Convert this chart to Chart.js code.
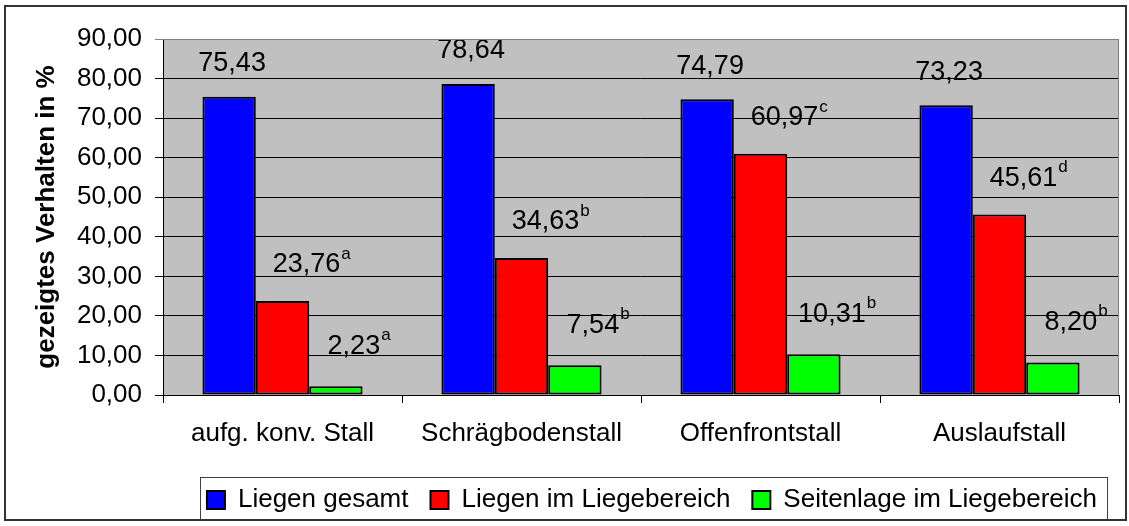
<!DOCTYPE html>
<html>
<head>
<meta charset="utf-8">
<script src="https://cdn.jsdelivr.net/npm/chart.js@4"></script>
<style>
  body { margin: 0; background: #fff; }
  #wrap { width: 1129px; height: 526px; }
</style>
</head>
<body>
<div id="wrap"><canvas id="behaviourChart" width="1129" height="526"></canvas></div>
<script>
// values
const stallTypes = ['aufg. konv. Stall', 'Schrägbodenstall', 'Offenfrontstall', 'Auslaufstall'];
const liegenGesamt = [75.43, 78.64, 74.79, 73.23];
const liegenImLiegebereich = [23.76, 34.63, 60.97, 45.61];
const seitenlageImLiegebereich = [2.23, 7.54, 10.31, 8.20];
const supLiegen = ['a', 'b', 'c', 'd'];
const supSeitenlage = ['a', 'b', 'b', 'b'];
const yTicks = [0, 10, 20, 30, 40, 50, 60, 70, 80, 90];

const FONT = 'Liberation Sans, Arial, sans-serif';

function fmt(v) {
    return v.toFixed(2).replace('.', ',');
}

// label placement per series (manual nudges like in the original)
const labelNudge = [
    { dx: 3, dy: -33 },
    { dx: 24, dy: -36 },
    { dx: 18, dy: -40 }
];

// grey plot background + border round the plot
const plotArea = {
    id: 'plotArea',
    beforeDraw(chart) {
        const { ctx, chartArea: a } = chart;
        ctx.save();
        ctx.fillStyle = '#c0c0c0';
        ctx.fillRect(a.left, a.top, a.right - a.left, a.bottom - a.top);
        ctx.restore();
    },
    afterDraw(chart) {
        const { ctx, chartArea: a } = chart;
        ctx.save();
        ctx.strokeStyle = '#808080';
        ctx.lineWidth = 1;
        ctx.beginPath();
        ctx.moveTo(a.left, a.top + 0.5);
        ctx.lineTo(a.right - 0.5, a.top + 0.5);
        ctx.lineTo(a.right - 0.5, a.bottom);
        ctx.stroke();

        // box round the legend
        const boxes = chart.legend.legendHitBoxes;
        if (boxes && boxes.length) {
            const l = Math.min(...boxes.map(b => b.left)) - 7;
            const r = Math.max(...boxes.map(b => b.left + b.width)) + 10;
            const t = Math.min(...boxes.map(b => b.top)) - 10;
            const btm = Math.max(...boxes.map(b => b.top + b.height)) + 6;
            ctx.strokeStyle = '#404040';
            ctx.lineWidth = 1;
            ctx.strokeRect(Math.round(l) + 0.5, Math.round(t) + 0.5, Math.round(r - l), Math.round(btm - t));
        }

        // outer frame
        ctx.strokeStyle = '#333';
        ctx.lineWidth = 2;
        ctx.strokeRect(5, 6, 1121, 514);
        ctx.restore();
    }
};

// value labels with superscript letters
const valueLabels = {
    id: 'valueLabels',
    afterDatasetsDraw(chart) {
        const ctx = chart.ctx;
        ctx.save();
        chart.data.datasets.forEach((ds, i) => {
            const meta = chart.getDatasetMeta(i);
            meta.data.forEach((bar, j) => {
                const txt = fmt(ds.data[j]);
                const sup = ds.sup ? ds.sup[j] : '';
                const cx = bar.x + labelNudge[i].dx;
                const cy = bar.y + labelNudge[i].dy;
                ctx.font = '27px ' + FONT;
                ctx.fillStyle = '#000';
                ctx.textAlign = 'center';
                ctx.textBaseline = 'middle';
                ctx.fillText(txt, cx, cy);
                if (sup) {
                    const w = ctx.measureText(txt).width;
                    ctx.font = '17px ' + FONT;
                    ctx.textAlign = 'left';
                    ctx.fillText(sup, cx + w / 2 + 1, cy - 11);
                }
            });
        });
        ctx.restore();
    }
};

const ctx = document.getElementById('behaviourChart').getContext('2d');
const behaviourChart = new Chart(ctx, {
    type: 'bar',
    data: {
        labels: stallTypes,
        datasets: [
            {
                label: 'Liegen gesamt',
                data: liegenGesamt,
                backgroundColor: '#0000ff',
                borderColor: '#000',
                borderWidth: 2,
                borderSkipped: false
            },
            {
                label: 'Liegen im Liegebereich',
                data: liegenImLiegebereich,
                sup: supLiegen,
                backgroundColor: '#ff0000',
                borderColor: '#000',
                borderWidth: 2,
                borderSkipped: false
            },
            {
                label: 'Seitenlage im Liegebereich',
                data: seitenlageImLiegebereich,
                sup: supSeitenlage,
                backgroundColor: '#00ff00',
                borderColor: '#000',
                borderWidth: 2,
                borderSkipped: false
            }
        ]
    },
    options: {
        responsive: false,
        animation: false,
        devicePixelRatio: 1,
        layout: { padding: { left: 8, top: 39, right: 10, bottom: 3 } },
        datasets: {
            bar: { categoryPercentage: 0.67, barPercentage: 1.0 }
        },
        scales: {
            x: {
                offset: true,
                grid: {
                    offset: true,
                    drawOnChartArea: false,
                    drawTicks: true,
                    tickLength: 8,
                    color: '#000'
                },
                border: { display: true, color: '#000', width: 1 },
                ticks: {
                    color: '#000',
                    font: { family: FONT, size: 26 },
                    padding: 15,
                    maxRotation: 0
                },
                afterFit(scale) { scale.height = 70; }
            },
            y: {
                min: 0,
                max: 90,
                afterBuildTicks(scale) {
                    scale.ticks = yTicks.map(v => ({ value: v }));
                },
                grid: {
                    color: (c) => (c.tick && c.tick.value === 90 ? '#808080' : '#000'),
                    tickLength: 8,
                    lineWidth: 1
                },
                border: { display: true, color: '#000', width: 1 },
                ticks: {
                    color: '#000',
                    font: { family: FONT, size: 26 },
                    padding: 13,
                    callback: (v) => fmt(v)
                },
                title: {
                    display: true,
                    text: 'gezeigtes Verhalten in %',
                    color: '#000',
                    font: { family: FONT, size: 26, weight: 'bold' },
                    padding: { top: 23, bottom: 0 }
                },
                afterFit(scale) { scale.width = 155; }
            }
        },
        plugins: {
            legend: {
                position: 'bottom',
                fullSize: false,
                align: 'end',
                labels: {
                    color: '#000',
                    font: { family: FONT, size: 26 },
                    boxWidth: 18,
                    boxHeight: 18,
                    padding: 22
                }
            },
            tooltip: { enabled: false }
        }
    },
    plugins: [plotArea, valueLabels]
});
</script>
</body>
</html>
